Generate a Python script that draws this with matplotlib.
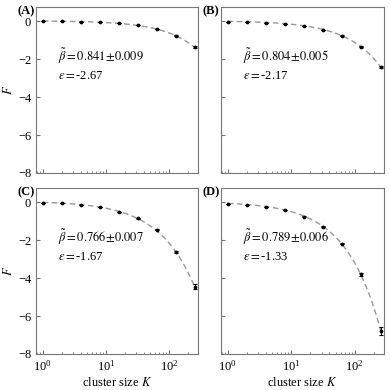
import numpy as np
import matplotlib
matplotlib.use('Agg')
import matplotlib.pyplot as plt

plt.rcParams['font.family'] = ['Liberation Serif', 'DejaVu Serif']
plt.rcParams['mathtext.fontset'] = 'stix'

# cluster sizes
K = [1, 2, 4, 8, 16, 32, 64, 128, 256]

# free energy
F_A = [0.0, -0.01, -0.02, -0.05, -0.11, -0.21, -0.41, -0.76, -1.38]
F_B = [-0.02, -0.04, -0.07, -0.12, -0.23, -0.44, -0.76, -1.35, -2.42]
F_C = [-0.02, -0.05, -0.13, -0.25, -0.49, -0.85, -1.46, -2.63, -4.45]
F_D = [-0.07, -0.13, -0.25, -0.43, -0.76, -1.28, -2.18, -3.80, -6.80]

err_A = [0, 0, 0, 0, 0, 0, 0.01, 0.02, 0.05]
err_B = [0, 0, 0, 0, 0, 0, 0.01, 0.03, 0.06]
err_C = [0, 0, 0, 0, 0, 0.01, 0.03, 0.07, 0.15]
err_D = [0, 0, 0, 0, 0.01, 0.02, 0.04, 0.09, 0.22]

betas = [0.841, 0.804, 0.766, 0.789]
beta_err = [0.009, 0.005, 0.007, 0.006]
eps = ['-2.67', '-2.17', '-1.67', '-1.33']
labels = ['(A)', '(B)', '(C)', '(D)']

series = [F_A, F_B, F_C, F_D]
errors = [err_A, err_B, err_C, err_D]

fig = plt.figure(figsize=(3.9, 3.9), dpi=100)
W, H = 390.0, 390.0
# axes boxes in pixels: left, top, right, bottom
boxes = [(36, 7, 198, 173), (221, 7, 384, 173),
         (36, 188, 198, 354), (221, 188, 384, 354)]

spine_col = '#777777'
for i in range(4):
    l, t, r, b = boxes[i]
    ax = fig.add_axes([l / W, 1 - b / H, (r - l) / W, (b - t) / H])
    Kv = np.array(K, dtype=float)
    Fv = np.array(series[i])

    # least-squares fit F = a + c*K^beta with the quoted exponent
    A = np.vstack([np.ones_like(Kv), Kv ** betas[i]]).T
    coef, *_ = np.linalg.lstsq(A, Fv, rcond=None)
    Kf = np.logspace(0, np.log10(256), 200)
    ax.plot(Kf, coef[0] + coef[1] * Kf ** betas[i], ls=(0, (4, 2.5)),
            color='#999999', lw=1.0, zorder=1)

    ax.errorbar(K, series[i], yerr=errors[i], fmt='o', ms=1.7,
                color='black', ecolor='black', elinewidth=0.8, capsize=1.2,
                capthick=0.8, zorder=2)

    ax.set_xscale('log')
    ax.set_xlim(0.78, 290)
    ax.set_ylim(-8, 0.75)
    ax.set_yticks([0, -2, -4, -6, -8])
    ax.tick_params(which='both', direction='in', top=False, right=False,
                   labelsize=9, color=spine_col)
    ax.tick_params(which='major', length=3)
    ax.tick_params(which='minor', length=1.8)
    for s in ax.spines.values():
        s.set_color(spine_col)
        s.set_linewidth(0.8)

    if i in (0, 2):
        ax.set_ylabel('$F$', fontsize=9, labelpad=2)
    else:
        ax.set_yticklabels([])
    if i in (2, 3):
        ax.set_xlabel('cluster size $K$', fontsize=9, labelpad=2)
    else:
        ax.set_xticklabels([])

    ax.text(0.135, 0.70, r'$\tilde{\beta}=%.3f\!\pm\!%.3f$' % (betas[i], beta_err[i]),
            transform=ax.transAxes, fontsize=9, va='center')
    ax.text(0.135, 0.585, r'$\varepsilon=$' + eps[i],
            transform=ax.transAxes, fontsize=9, va='center')
    ax.text(-0.01, 0.975, labels[i], transform=ax.transAxes, fontsize=9,
            fontweight='bold', ha='right', va='center')

fig.savefig('out.png', dpi=100)
